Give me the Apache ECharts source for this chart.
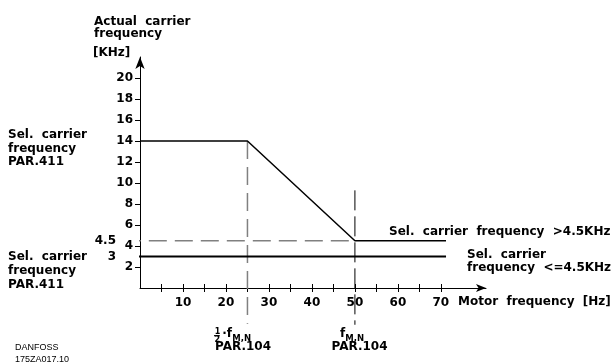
<!DOCTYPE html>
<html>
<head>
<meta charset="utf-8">
<script src="https://cdn.jsdelivr.net/npm/echarts@6/dist/echarts.min.js"></script>
<style>html,body{margin:0;padding:0;background:#fff;}#c{width:612px;height:363px;}</style>
</head>
<body>
<div id="c"></div>
<script>
// ---- data ----
const xTickValues = [5,10,15,20,25,30,35,40,45,50,55,60,65,70];
const xLabelValues = [10,20,30,40,50,60,70];
const yTickValues = [2,4,6,8,10,12,14,16,18,20];
const yLabelValues = [2,3,4,4.5,6,8,10,12,14,16,18,20];
const curveHigh = [[0,14],[25,14],[50,4.5],[71.2,4.5]];      // Sel. carrier frequency >4.5KHz
const curveLow = [[-4.2,3],[71.2,3]];                        // Sel. carrier frequency <=4.5KHz
const dashH45 = [[-4,4.5],[50,4.5]];
const dashV25 = [[25,14],[25,-3.4]];
const dashV50 = [[50,9.3],[50,-3.5]];

const F = '"DejaVu Sans"';
const txt = (x, y, text, size) => ({
  type: 'text', x: x, y: y,
  style: { text: text, fill: '#000', font: 'bold ' + (size || 12) + 'px ' + F, verticalAlign: 'middle', align: 'left' }
});

const chart = echarts.init(document.getElementById('c'), null, { renderer: 'canvas' });
const axisCommon = { type: 'value', min: 0, splitLine: { show: false } };
chart.setOption({
  animation: false,
  backgroundColor: '#fff',
  grid: { left: 140, top: 57, width: 346, height: 231, containLabel: false },
  xAxis: [
    Object.assign({}, axisCommon, {
      max: 80.5, position: 'bottom',
      axisLine: { lineStyle: { color: '#000', width: 1 }, symbol: ['none', 'arrow'], symbolSize: [6, 10] },
      axisTick: { show: true, length: 4, customValues: xTickValues, lineStyle: { color: '#000' } },
      axisLabel: { customValues: xLabelValues, margin: 9, color: '#000', fontFamily: F, fontWeight: 'bold', fontSize: 12 }
    }),
    Object.assign({}, axisCommon, {
      max: 80.5, position: 'bottom',
      axisLine: { show: false },
      axisTick: { show: true, inside: true, length: 4, customValues: xTickValues, lineStyle: { color: '#000' } },
      axisLabel: { show: false }
    })
  ],
  yAxis: Object.assign({}, axisCommon, {
    max: 22,
    axisLine: { show: true, lineStyle: { color: '#000', width: 1 }, symbol: ['none', 'arrow'], symbolSize: [7, 12] },
    axisTick: { show: true, length: 5, customValues: yTickValues, lineStyle: { color: '#000' } },
    axisLabel: {
      customValues: yLabelValues, margin: 7, color: '#000', fontFamily: F, fontWeight: 'bold', fontSize: 12,
      formatter: v => (v === 3 || v === 4.5) ? '{o|' + v + '}' : String(v),
      rich: { o: { padding: [0, 17, 0, 0], fontFamily: F, fontWeight: 'bold', fontSize: 12, color: '#000' } }
    }
  }),
  series: [
    { name: 'Sel. carrier frequency >4.5KHz', type: 'line', data: curveHigh, symbol: 'none', clip: false,
      lineStyle: { color: '#000', width: 1.5 }, z: 5 },
    { name: 'Sel. carrier frequency <=4.5KHz', type: 'line', data: curveLow, symbol: 'none', clip: false,
      lineStyle: { color: '#000', width: 2 }, z: 5 },
    { name: 'dashH', type: 'line', data: dashH45, symbol: 'none', clip: false,
      lineStyle: { color: '#808080', width: 1.5, type: [18, 8] }, z: 3 },
    { name: 'dashV25', type: 'line', data: dashV25, symbol: 'none', clip: false,
      lineStyle: { color: '#808080', width: 1.5, type: [18, 8] }, z: 3 },
    { name: 'dashV50', type: 'line', data: dashV50, symbol: 'none', clip: false,
      lineStyle: { color: '#000', width: 1, type: [20, 6] }, z: 3 }
  ],
  graphic: [
    txt(94, 22, 'Actual  carrier'),
    txt(94, 34, 'frequency'),
    txt(93, 53, '[KHz]'),
    txt(8, 135, 'Sel.  carrier'),
    txt(8, 148.5, 'frequency'),
    txt(8, 162, 'PAR.411'),
    txt(8, 256.5, 'Sel.  carrier'),
    txt(8, 270.5, 'frequency'),
    txt(8, 285, 'PAR.411'),
    txt(389, 232, 'Sel.  carrier  frequency  >4.5KHz'),
    txt(467, 254.5, 'Sel.  carrier'),
    txt(467, 268, 'frequency  <=4.5KHz'),
    txt(458, 302, 'Motor  frequency  [Hz]'),
    // 1/2 . f M,N
    txt(214.8, 331.5, '1', 8),
    { type: 'line', shape: { x1: 214, y1: 335.7, x2: 219.8, y2: 335.7 }, style: { stroke: '#000', lineWidth: 1.2 }, z: 10 },
    txt(214.5, 340, '2', 8),
    txt(222.3, 333.5, '\u00B7f', 12),
    txt(232.3, 338.5, 'M,N', 8.5),
    txt(215, 346.5, 'PAR.104'),
    txt(340, 333.5, 'f', 12),
    txt(345.3, 338.5, 'M,N', 8.5),
    txt(331.5, 346.5, 'PAR.104'),
    { type: 'text', x: 15, y: 347.5, style: { text: 'DANFOSS', fill: '#000', font: '9px "Liberation Sans"', verticalAlign: 'middle' } },
    { type: 'text', x: 15, y: 359.5, style: { text: '175ZA017.10', fill: '#000', font: '9px "Liberation Sans"', verticalAlign: 'middle' } }
  ]
});
</script>
</body>
</html>
